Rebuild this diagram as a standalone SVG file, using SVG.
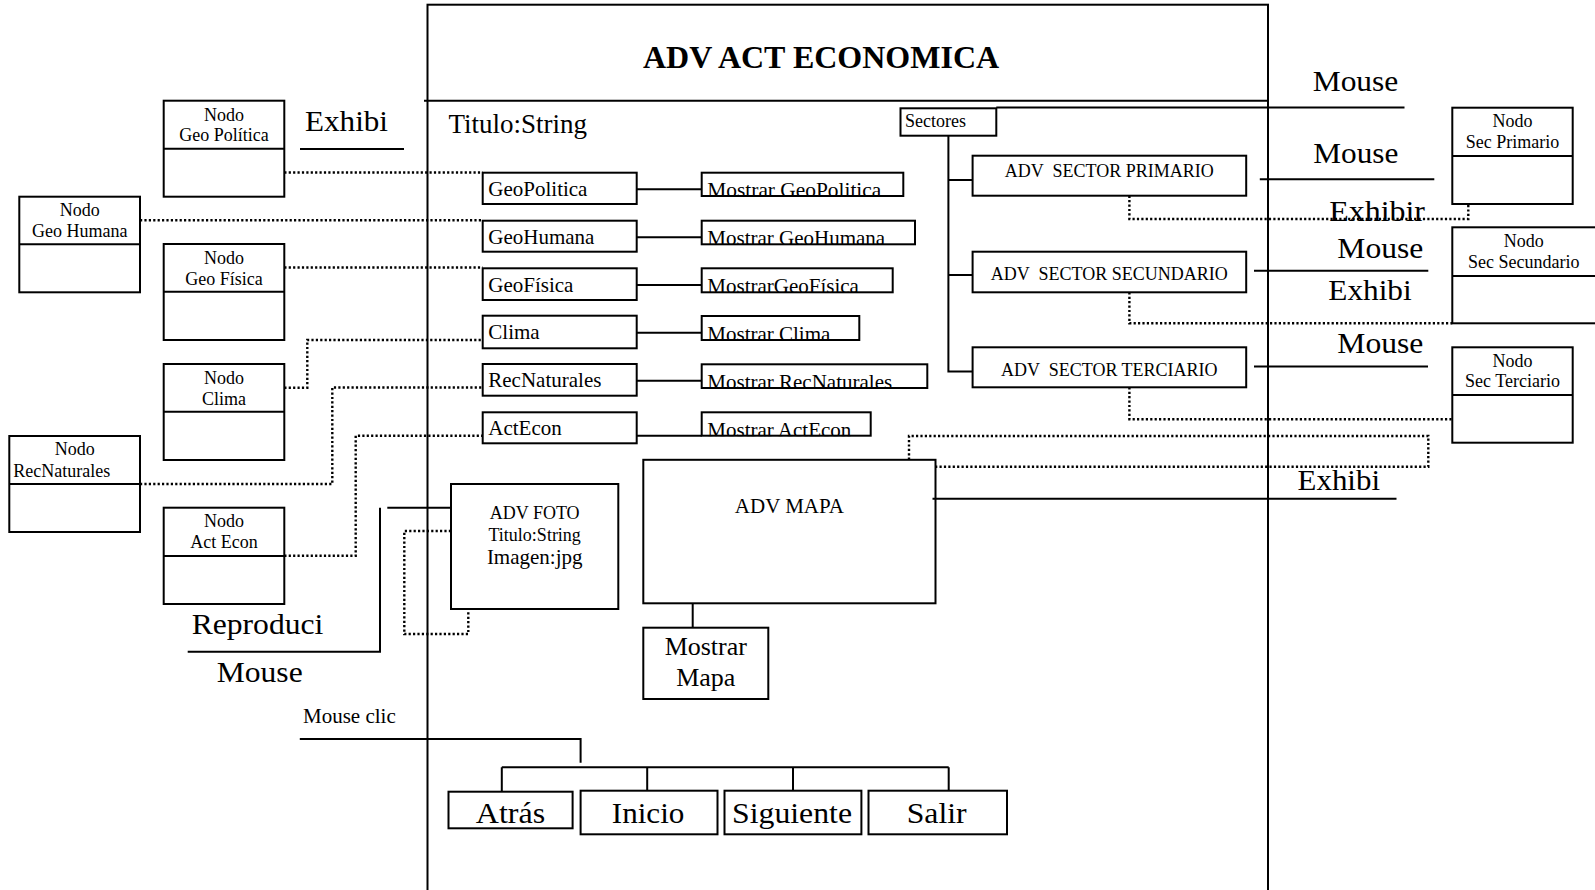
<svg xmlns="http://www.w3.org/2000/svg" width="1595" height="890" viewBox="0 0 1595 890">
  <style>
    .bx { fill: none; stroke: #000; stroke-width: 2; }
    .ln { fill: none; stroke: #000; stroke-width: 2; }
    .dt { fill: none; stroke: #000; stroke-width: 2.4; stroke-dasharray: 2.2 2.2; }
    text { font-family: "Liberation Serif", "Times New Roman", serif; fill: #000; }
    .s18 { font-size: 18px; }
    .s21 { font-size: 21px; }
    .big { font-size: 30px; }
    .mid { text-anchor: middle; }
    .pre { white-space: pre; }
  </style>
  <defs>
    <clipPath id="cpGP"><rect x="701.7" y="172.7" width="201.6" height="24"/></clipPath>
    <clipPath id="cpGH"><rect x="701.7" y="220.7" width="213.3" height="24"/></clipPath>
    <clipPath id="cpGF"><rect x="701.7" y="268.3" width="191" height="24.5"/></clipPath>
    <clipPath id="cpCL"><rect x="701.7" y="316" width="157.6" height="24.5"/></clipPath>
    <clipPath id="cpRN"><rect x="701.7" y="364.3" width="225.6" height="24.2"/></clipPath>
    <clipPath id="cpAE"><rect x="701.7" y="412.3" width="169" height="23.9"/></clipPath>
  </defs>
  <rect width="1595" height="890" fill="#fff"/>

  <!-- main class frame -->
  <g id="adv-act-economica">
    <rect class="bx" x="427.5" y="4.7" width="840.5" height="900"/>
    <line class="ln" x1="424" y1="100.7" x2="1268" y2="100.7"/>
    <text x="821" y="68.3" class="mid" font-size="32" font-weight="bold">ADV ACT ECONOMICA</text>
    <text x="448.5" y="133" font-size="27">Titulo:String</text>
  </g>

  <!-- connectors -->
  <g id="connectors">
    <!-- dotted links from left nodes -->
    <path class="dt" d="M284.3,172.5 H482.7"/>
    <path class="dt" d="M140,220.3 H482.7"/>
    <path class="dt" d="M284.3,267.5 H482.7"/>
    <path class="dt" d="M284.3,387.7 H307.3 V340 H482.7"/>
    <path class="dt" d="M140,484 H332.3 V387.5 H482.7"/>
    <path class="dt" d="M284.3,555.8 H355.7 V435.8 H482.7"/>
    <path class="dt" d="M451,531 H404.3 V634 H468.3 V609"/>
    <!-- dotted links to sector nodes -->
    <path class="dt" d="M1129.4,195.7 V219 H1468.3 V204"/>
    <path class="dt" d="M1129.4,292.3 V323.3 H1452.3"/>
    <path class="dt" d="M1129.4,387.3 V419.3 H1452.3"/>
    <path class="dt" d="M909,459.8 V436 H1428.3 V466.7 H935.5"/>

    <!-- attribute to method links -->
    <path class="ln" d="M636.7,189.3 H701.7"/>
    <path class="ln" d="M636.7,237.3 H701.7"/>
    <path class="ln" d="M636.7,285 H701.7"/>
    <path class="ln" d="M636.7,332.7 H701.7"/>
    <path class="ln" d="M636.7,380.7 H701.7"/>
    <path class="ln" d="M636.7,435.7 H701.7"/>

    <!-- sectores tree -->
    <path class="ln" d="M948.4,135.7 V371.5 H972.6"/>
    <path class="ln" d="M948.4,180 H972.6"/>
    <path class="ln" d="M948.4,275 H972.6"/>

    <!-- event lines -->
    <path class="ln" d="M996.3,107.5 H1404.5"/>
    <path class="ln" d="M1259.8,179.3 H1434.3"/>
    <path class="ln" d="M1254,270.7 H1428.3"/>
    <path class="ln" d="M1254,366.5 H1428"/>
    <path class="ln" d="M932.5,498.8 H1396.5"/>
    <path class="ln" d="M300,149 H404"/>
    <path class="ln" d="M187.7,651.7 H380 V507.7"/>
    <path class="ln" d="M387.3,507.7 H451"/>
    <path class="ln" d="M692.7,603.3 V627.7"/>

    <!-- navigation buttons -->
    <path class="ln" d="M299.8,739 H580.6 V762.7"/>
    <path class="ln" d="M501.8,767.3 H948.7"/>
    <path class="ln" d="M501.8,767.3 V791.7 M647.2,767.3 V790.7 M793,767.3 V790.7 M948.7,767.3 V790.7"/>

    <!-- event labels -->
    <text class="big" x="305" y="130.7" textLength="83" lengthAdjust="spacingAndGlyphs">Exhibi</text>
    <text class="big" x="191.7" y="634" textLength="131.6" lengthAdjust="spacingAndGlyphs">Reproduci</text>
    <text class="big" x="216.7" y="681.7" textLength="86" lengthAdjust="spacingAndGlyphs">Mouse</text>
    <text class="s21" x="303" y="722.5">Mouse clic</text>
    <text class="big" x="1312.7" y="90.7" textLength="85.6" lengthAdjust="spacingAndGlyphs">Mouse</text>
    <text class="big" x="1313.3" y="162.7" textLength="85" lengthAdjust="spacingAndGlyphs">Mouse</text>
    <text class="big" x="1329.3" y="220.7" textLength="95.7" lengthAdjust="spacingAndGlyphs">Exhibir</text>
    <text class="big" x="1337.3" y="258.3" textLength="86" lengthAdjust="spacingAndGlyphs">Mouse</text>
    <text class="big" x="1328.3" y="300" textLength="83.4" lengthAdjust="spacingAndGlyphs">Exhibi</text>
    <text class="big" x="1337.3" y="353.3" textLength="86" lengthAdjust="spacingAndGlyphs">Mouse</text>
    <text class="big" x="1297.6" y="490" textLength="82.4" lengthAdjust="spacingAndGlyphs">Exhibi</text>
  </g>

  <!-- left nodes -->
  <g id="nodo-geo-politica">
    <rect class="bx" x="163.7" y="100.7" width="120.6" height="96"/>
    <line class="ln" x1="163.7" y1="148.7" x2="284.3" y2="148.7"/>
    <text class="s18 mid" x="224" y="120.7">Nodo</text>
    <text class="s18 mid" x="224" y="141">Geo Política</text>
  </g>
  <g id="nodo-geo-humana">
    <rect class="bx" x="19.3" y="196.7" width="120.7" height="95.6"/>
    <line class="ln" x1="19.3" y1="244.3" x2="140" y2="244.3"/>
    <text class="s18 mid" x="79.7" y="216">Nodo</text>
    <text class="s18 mid" x="79.7" y="237">Geo Humana</text>
  </g>
  <g id="nodo-geo-fisica">
    <rect class="bx" x="163.7" y="244" width="120.6" height="96"/>
    <line class="ln" x1="163.7" y1="291.7" x2="284.3" y2="291.7"/>
    <text class="s18 mid" x="224" y="264">Nodo</text>
    <text class="s18 mid" x="224" y="285">Geo Física</text>
  </g>
  <g id="nodo-clima">
    <rect class="bx" x="163.7" y="364" width="120.6" height="96"/>
    <line class="ln" x1="163.7" y1="411.7" x2="284.3" y2="411.7"/>
    <text class="s18 mid" x="224" y="383.5">Nodo</text>
    <text class="s18 mid" x="224" y="405">Clima</text>
  </g>
  <g id="nodo-recnaturales">
    <rect class="bx" x="9.3" y="436" width="130.7" height="96"/>
    <line class="ln" x1="9.3" y1="484" x2="140" y2="484"/>
    <text class="s18 mid" x="74.7" y="455">Nodo</text>
    <text class="s18" x="13.3" y="476.7">RecNaturales</text>
  </g>
  <g id="nodo-act-econ">
    <rect class="bx" x="163.7" y="507.7" width="120.6" height="96.3"/>
    <line class="ln" x1="163.7" y1="556" x2="284.3" y2="556"/>
    <text class="s18 mid" x="224" y="527">Nodo</text>
    <text class="s18 mid" x="224" y="548.3">Act Econ</text>
  </g>

  <!-- attributes and methods -->
  <g id="geopolitica">
    <rect class="bx" x="482.7" y="172.7" width="154" height="31.3"/>
    <text class="s21" x="488.3" y="195.7">GeoPolitica</text>
  </g>
  <g id="mostrar-geopolitica">
    <text class="s21" x="707.3" y="197" clip-path="url(#cpGP)" textLength="174" lengthAdjust="spacingAndGlyphs">Mostrar GeoPolitica</text>
    <rect class="bx" x="701.7" y="172.7" width="201.6" height="23.3"/>
  </g>
  <g id="geohumana">
    <rect class="bx" x="482.7" y="220.7" width="154" height="31"/>
    <text class="s21" x="488.3" y="244">GeoHumana</text>
  </g>
  <g id="mostrar-geohumana">
    <text class="s21" x="707.3" y="245.3" clip-path="url(#cpGH)">Mostrar GeoHumana</text>
    <rect class="bx" x="701.7" y="220.7" width="213.3" height="23.6"/>
  </g>
  <g id="geofisica">
    <rect class="bx" x="482.7" y="268.3" width="154" height="31.7"/>
    <text class="s21" x="488.3" y="291.7">GeoFísica</text>
  </g>
  <g id="mostrar-geofisica">
    <text class="s21" x="707.3" y="293.3" clip-path="url(#cpGF)">MostrarGeoFísica</text>
    <rect class="bx" x="701.7" y="268.3" width="191" height="24"/>
  </g>
  <g id="clima">
    <rect class="bx" x="482.7" y="315.7" width="154" height="32.6"/>
    <text class="s21" x="488.3" y="339.3">Clima</text>
  </g>
  <g id="mostrar-clima">
    <text class="s21" x="707.3" y="341" clip-path="url(#cpCL)">Mostrar Clima</text>
    <rect class="bx" x="701.7" y="316" width="157.6" height="24"/>
  </g>
  <g id="recnaturales">
    <rect class="bx" x="482.7" y="364" width="154" height="31.7"/>
    <text class="s21" x="488.3" y="386.7">RecNaturales</text>
  </g>
  <g id="mostrar-recnaturales">
    <text class="s21" x="707.3" y="389" clip-path="url(#cpRN)">Mostrar RecNaturales</text>
    <rect class="bx" x="701.7" y="364.3" width="225.6" height="23.7"/>
  </g>
  <g id="actecon">
    <rect class="bx" x="482.7" y="412.3" width="154" height="31"/>
    <text class="s21" x="488.3" y="435">ActEcon</text>
  </g>
  <g id="mostrar-actecon">
    <text class="s21" x="707.3" y="436.7" clip-path="url(#cpAE)">Mostrar ActEcon</text>
    <rect class="bx" x="701.7" y="412.3" width="169" height="23.4"/>
  </g>

  <!-- sectores -->
  <g id="sectores">
    <rect class="bx" x="900.5" y="108.3" width="95.8" height="27.4"/>
    <text class="s18" x="905" y="127.3">Sectores</text>
  </g>
  <g id="adv-sector-primario">
    <rect class="bx" x="972.6" y="155.7" width="273.6" height="40"/>
    <text class="s18 mid pre" x="1109.3" y="177.3">ADV  SECTOR PRIMARIO</text>
  </g>
  <g id="adv-sector-secundario">
    <rect class="bx" x="972.6" y="251.7" width="273.6" height="40.6"/>
    <text class="s18 mid pre" x="1109.3" y="280">ADV  SECTOR SECUNDARIO</text>
  </g>
  <g id="adv-sector-terciario">
    <rect class="bx" x="972.6" y="347.3" width="273.6" height="40"/>
    <text class="s18 mid pre" x="1109.3" y="376">ADV  SECTOR TERCIARIO</text>
  </g>

  <!-- right nodes -->
  <g id="nodo-sec-primario">
    <rect class="bx" x="1452.3" y="107.7" width="120.4" height="96.3"/>
    <line class="ln" x1="1452.3" y1="156" x2="1572.7" y2="156"/>
    <text class="s18 mid" x="1512.5" y="127.3">Nodo</text>
    <text class="s18 mid" x="1512.5" y="148.3">Sec Primario</text>
  </g>
  <g id="nodo-sec-secundario">
    <rect class="bx" x="1452.3" y="227.3" width="146" height="96"/>
    <line class="ln" x1="1452.3" y1="276" x2="1598" y2="276"/>
    <text class="s18 mid" x="1523.7" y="246.7">Nodo</text>
    <text class="s18 mid" x="1523.7" y="268.3">Sec Secundario</text>
  </g>
  <g id="nodo-sec-terciario">
    <rect class="bx" x="1452.3" y="347.3" width="120.4" height="95.4"/>
    <line class="ln" x1="1452.3" y1="395" x2="1572.7" y2="395"/>
    <text class="s18 mid" x="1512.5" y="366.7">Nodo</text>
    <text class="s18 mid" x="1512.5" y="387.3">Sec Terciario</text>
  </g>

  <!-- foto and mapa -->
  <g id="adv-foto">
    <rect class="bx" x="451" y="484" width="167.3" height="125"/>
    <text class="s18 mid" x="534.7" y="519.3">ADV FOTO</text>
    <text class="s18 mid" x="534.7" y="541">Titulo:String</text>
    <text class="s21 mid" x="534.7" y="564">Imagen:jpg</text>
  </g>
  <g id="adv-mapa">
    <rect class="bx" x="643.3" y="459.8" width="292.2" height="143.5"/>
    <text class="s21 mid" x="789.4" y="513.3">ADV MAPA</text>
  </g>
  <g id="mostrar-mapa">
    <rect class="bx" x="643.3" y="627.7" width="125" height="71.3"/>
    <text class="mid" font-size="26" x="705.8" y="655">Mostrar</text>
    <text class="mid" font-size="26" x="705.8" y="686">Mapa</text>
  </g>

  <!-- navigation buttons -->
  <g id="btn-atras">
    <rect class="bx" x="448.5" y="791.7" width="124.1" height="36.6"/>
    <text class="big" x="475.8" y="823.3" textLength="69.4" lengthAdjust="spacingAndGlyphs">Atrás</text>
  </g>
  <g id="btn-inicio">
    <rect class="bx" x="580.6" y="790.7" width="136.9" height="43.6"/>
    <text class="big" x="611.8" y="823.3" textLength="72.6" lengthAdjust="spacingAndGlyphs">Inicio</text>
  </g>
  <g id="btn-siguiente">
    <rect class="bx" x="724.5" y="790.7" width="136.9" height="43.6"/>
    <text class="big" x="732" y="823.3" textLength="120" lengthAdjust="spacingAndGlyphs">Siguiente</text>
  </g>
  <g id="btn-salir">
    <rect class="bx" x="868.5" y="790.7" width="138.5" height="43.6"/>
    <text class="big" x="906.7" y="823.3" textLength="60" lengthAdjust="spacingAndGlyphs">Salir</text>
  </g>
</svg>
